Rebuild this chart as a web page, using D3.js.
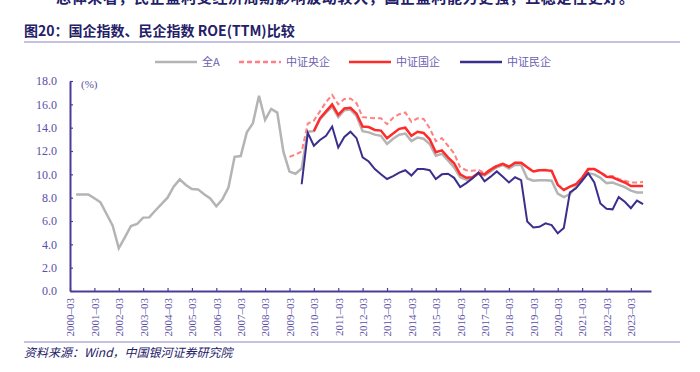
<!DOCTYPE html>
<html>
<head>
<meta charset="utf-8">
<title>国企指数、民企指数 ROE(TTM)比较</title>
<script src="https://d3js.org/d3.v7.min.js"></script>
<style>
  body { margin: 0; background: #fff; }
  .legend text { font-family: "Noto Sans CJK SC", sans-serif; font-size: 11px; fill: #6a60b0; }
</style>
</head>
<body>
<svg width="700" height="372"></svg>
<script>
// quarterly ROE(TTM), %, first value belongs to the given start quarter
var allAStart = "2000-06";
var allA = [8.28, 8.28, 8.28, 7.95, 7.6, 6.6, 5.6, 3.66, 4.6, 5.57, 5.74, 6.29, 6.31, 6.9, 7.45,
  8.0, 8.94, 9.57, 9.09, 8.74, 8.71, 8.29, 7.94, 7.26, 7.86, 8.89, 11.5, 11.57, 13.6, 14.37,
  16.74, 14.66, 15.6, 15.29, 11.94, 10.23, 10.05, 10.5, 13.66, 13.7, 14.7, 15.3, 15.8, 14.9,
  15.5, 15.55, 15.0, 13.7, 13.6, 13.4, 13.3, 12.6, 13.05, 13.4, 13.5, 12.85, 13.15, 13.05, 12.6,
  11.6, 11.75, 11.2, 10.6, 9.75, 9.55, 9.7, 10.05, 9.9, 10.25, 10.6, 10.8, 10.5, 10.8, 10.8,
  9.65, 9.45, 9.5, 9.5, 9.45, 8.35, 8.05, 8.3, 8.95, 9.65, 10.1, 10.0, 9.7, 9.25, 9.3, 9.1,
  8.9, 8.6, 8.45, 8.45];

var centralStart = "2009-03";
var central = [11.5, 11.7, 11.95, 14.35, 14.6, 15.4, 16.2, 16.8, 16.0, 16.45, 16.5, 16.1, 14.9,
  14.85, 14.8, 14.8, 14.3, 14.85, 15.15, 15.3, 14.5, 14.8, 14.75, 13.95, 12.85, 13.1, 12.45,
  11.8, 10.6, 10.35, 10.3, 10.4, 10.1, 10.45, 10.75, 10.9, 10.65, 11.0, 11.0, 10.6, 10.2, 10.4,
  10.4, 10.3, 9.1, 8.7, 8.9, 9.2, 9.7, 10.4, 10.45, 10.2, 9.85, 9.85, 9.6, 9.45, 9.3, 9.3, 9.35];

var stateStart = "2010-03";
var state = [13.7, 14.8, 15.4, 16.0, 15.1, 15.65, 15.7, 15.2, 14.1, 14.05, 13.8, 13.75, 13.1,
  13.5, 13.9, 14.0, 13.3, 13.65, 13.55, 13.0, 11.9, 12.05, 11.45, 10.95, 10.0, 9.7, 9.75, 10.1,
  10.0, 10.4, 10.7, 10.9, 10.65, 11.0, 11.0, 10.6, 10.25, 10.35, 10.35, 10.3, 9.1, 8.65, 8.95,
  9.15, 9.7, 10.45, 10.45, 10.15, 9.8, 9.75, 9.5, 9.3, 9.0, 9.0, 9.0];

var privateStart = "2009-09";
var privateE = [9.15, 13.55, 12.45, 12.95, 13.3, 14.1, 12.3, 13.2, 13.65, 13.1, 11.45, 11.1,
  10.45, 10.0, 9.6, 9.85, 10.15, 10.35, 9.9, 10.45, 10.45, 10.35, 9.6, 10.0, 10.05, 9.7, 8.9,
  9.25, 9.65, 10.15, 9.4, 9.8, 10.25, 9.8, 9.3, 9.75, 9.5, 5.95, 5.45, 5.5, 5.8, 5.65, 4.95,
  5.4, 8.45, 8.8, 9.45, 10.1, 9.3, 7.5, 7.05, 7.0, 8.05, 7.65, 7.1, 7.75, 7.45];

var seriesNames = ["全A", "中证央企", "中证国企", "中证民企"];
var yTicks = [0, 2, 4, 6, 8, 10, 12, 14, 16, 18];
var tickYears = d3.range(2000, 2024);

// quarter index counted from 2000-03
function qIndex(label) {
  var p = label.split("-");
  return (+p[0] - 2000) * 4 + (+p[1] - 3) / 3;
}
function toPoints(start, values) {
  var s = qIndex(start);
  return values.map(function (v, i) { return { i: s + i, v: v }; });
}

var svg = d3.select("svg");

var x = d3.scaleLinear().domain([0, 95.3]).range([70, 651]);
var y = d3.scaleLinear().domain([0, 18]).range([291, 81]);

// cut off line of body text at very top
svg.append("text")
  .attr("x", 56).attr("y", 3)
  .attr("textLength", 578).attr("lengthAdjust", "spacing")
  .style("font-family", "Noto Sans CJK SC").style("font-size", "15px")
  .style("font-weight", "bold").style("fill", "#232068")
  .text("总体来看，民企盈利受经济周期影响波动较大，国企盈利能力更强，且稳定性更好。");

// title
svg.append("text")
  .attr("x", 24).attr("y", 36)
  .style("font-family", "Noto Sans CJK SC").style("font-size", "14px")
  .style("font-weight", "bold").style("fill", "#232068")
  .text("图20：国企指数、民企指数 ROE(TTM)比较");

svg.append("line").attr("x1", 24).attr("x2", 680).attr("y1", 42).attr("y2", 42)
  .attr("stroke", "#8a84c4").attr("stroke-width", 1);

// legend
var legendItems = [
  { name: seriesNames[0], x: 155, color: "#b4b4b4", dash: null },
  { name: seriesNames[1], x: 239, color: "#ff8080", dash: "5,3" },
  { name: seriesNames[2], x: 349, color: "#ff2b2b", dash: null },
  { name: seriesNames[3], x: 460, color: "#3b2f8e", dash: null }
];
var lg = svg.append("g").attr("class", "legend");
legendItems.forEach(function (d) {
  lg.append("line").attr("x1", d.x).attr("x2", d.x + 42).attr("y1", 62).attr("y2", 62)
    .attr("stroke", d.color).attr("stroke-width", 2.5)
    .attr("stroke-dasharray", d.dash);
  lg.append("text").attr("x", d.x + 47).attr("y", 66).text(d.name);
});

// y axis
var yAxis = svg.append("g")
  .attr("transform", "translate(70,0)")
  .call(d3.axisLeft(y).tickValues(yTicks).tickFormat(d3.format(".1f"))
    .tickSizeInner(-3).tickSizeOuter(0).tickPadding(13));
yAxis.selectAll("text")
  .style("font-family", "'Liberation Serif', serif").style("font-size", "12px")
  .style("fill", "#5a4fa6");

// x axis
var xAxis = svg.append("g")
  .attr("transform", "translate(0,291)")
  .call(d3.axisBottom(x).tickValues(tickYears.map(function (yr) { return (yr - 2000) * 4; }))
    .tickFormat(function (d) { return (2000 + d / 4) + "–03"; })
    .tickSizeInner(-3).tickSizeOuter(0));
xAxis.selectAll("text")
  .attr("transform", "rotate(-90)")
  .attr("x", -7).attr("y", 0).attr("dy", "0.35em")
  .style("text-anchor", "end")
  .style("font-family", "'Liberation Serif', serif").style("font-size", "11px")
  .style("fill", "#5a4fa6");

svg.selectAll(".domain").attr("stroke", "#4a3d99").attr("stroke-width", 2);
svg.selectAll(".tick line").attr("stroke", "#4a3d99").attr("stroke-width", 1.2);

svg.append("text").attr("x", 81).attr("y", 88)
  .style("font-family", "'Liberation Serif', serif").style("font-size", "11px").style("fill", "#5a4fa6")
  .text("(%)");

// lines
var line = d3.line().x(function (d) { return x(d.i); }).y(function (d) { return y(d.v); });

svg.append("path").datum(toPoints(allAStart, allA))
  .attr("fill", "none").attr("stroke", "#b4b4b4").attr("stroke-width", 2.5).attr("d", line);
svg.append("path").datum(toPoints(centralStart, central))
  .attr("fill", "none").attr("stroke", "#ff8080").attr("stroke-width", 2)
  .attr("stroke-dasharray", "5,3").attr("d", line);
svg.append("path").datum(toPoints(stateStart, state))
  .attr("fill", "none").attr("stroke", "#ff2b2b").attr("stroke-width", 2.5).attr("d", line);
svg.append("path").datum(toPoints(privateStart, privateE))
  .attr("fill", "none").attr("stroke", "#3b2f8e").attr("stroke-width", 2).attr("d", line);

// source
svg.append("line").attr("x1", 24).attr("x2", 680).attr("y1", 342).attr("y2", 342)
  .attr("stroke", "#8a84c4").attr("stroke-width", 1);
svg.append("text").attr("x", 24).attr("y", 357)
  .style("font-family", "Noto Sans CJK SC").style("font-size", "12px")
  .style("font-style", "italic").style("fill", "#232068")
  .text("资料来源：Wind，中国银河证券研究院");
</script>
</body>
</html>
